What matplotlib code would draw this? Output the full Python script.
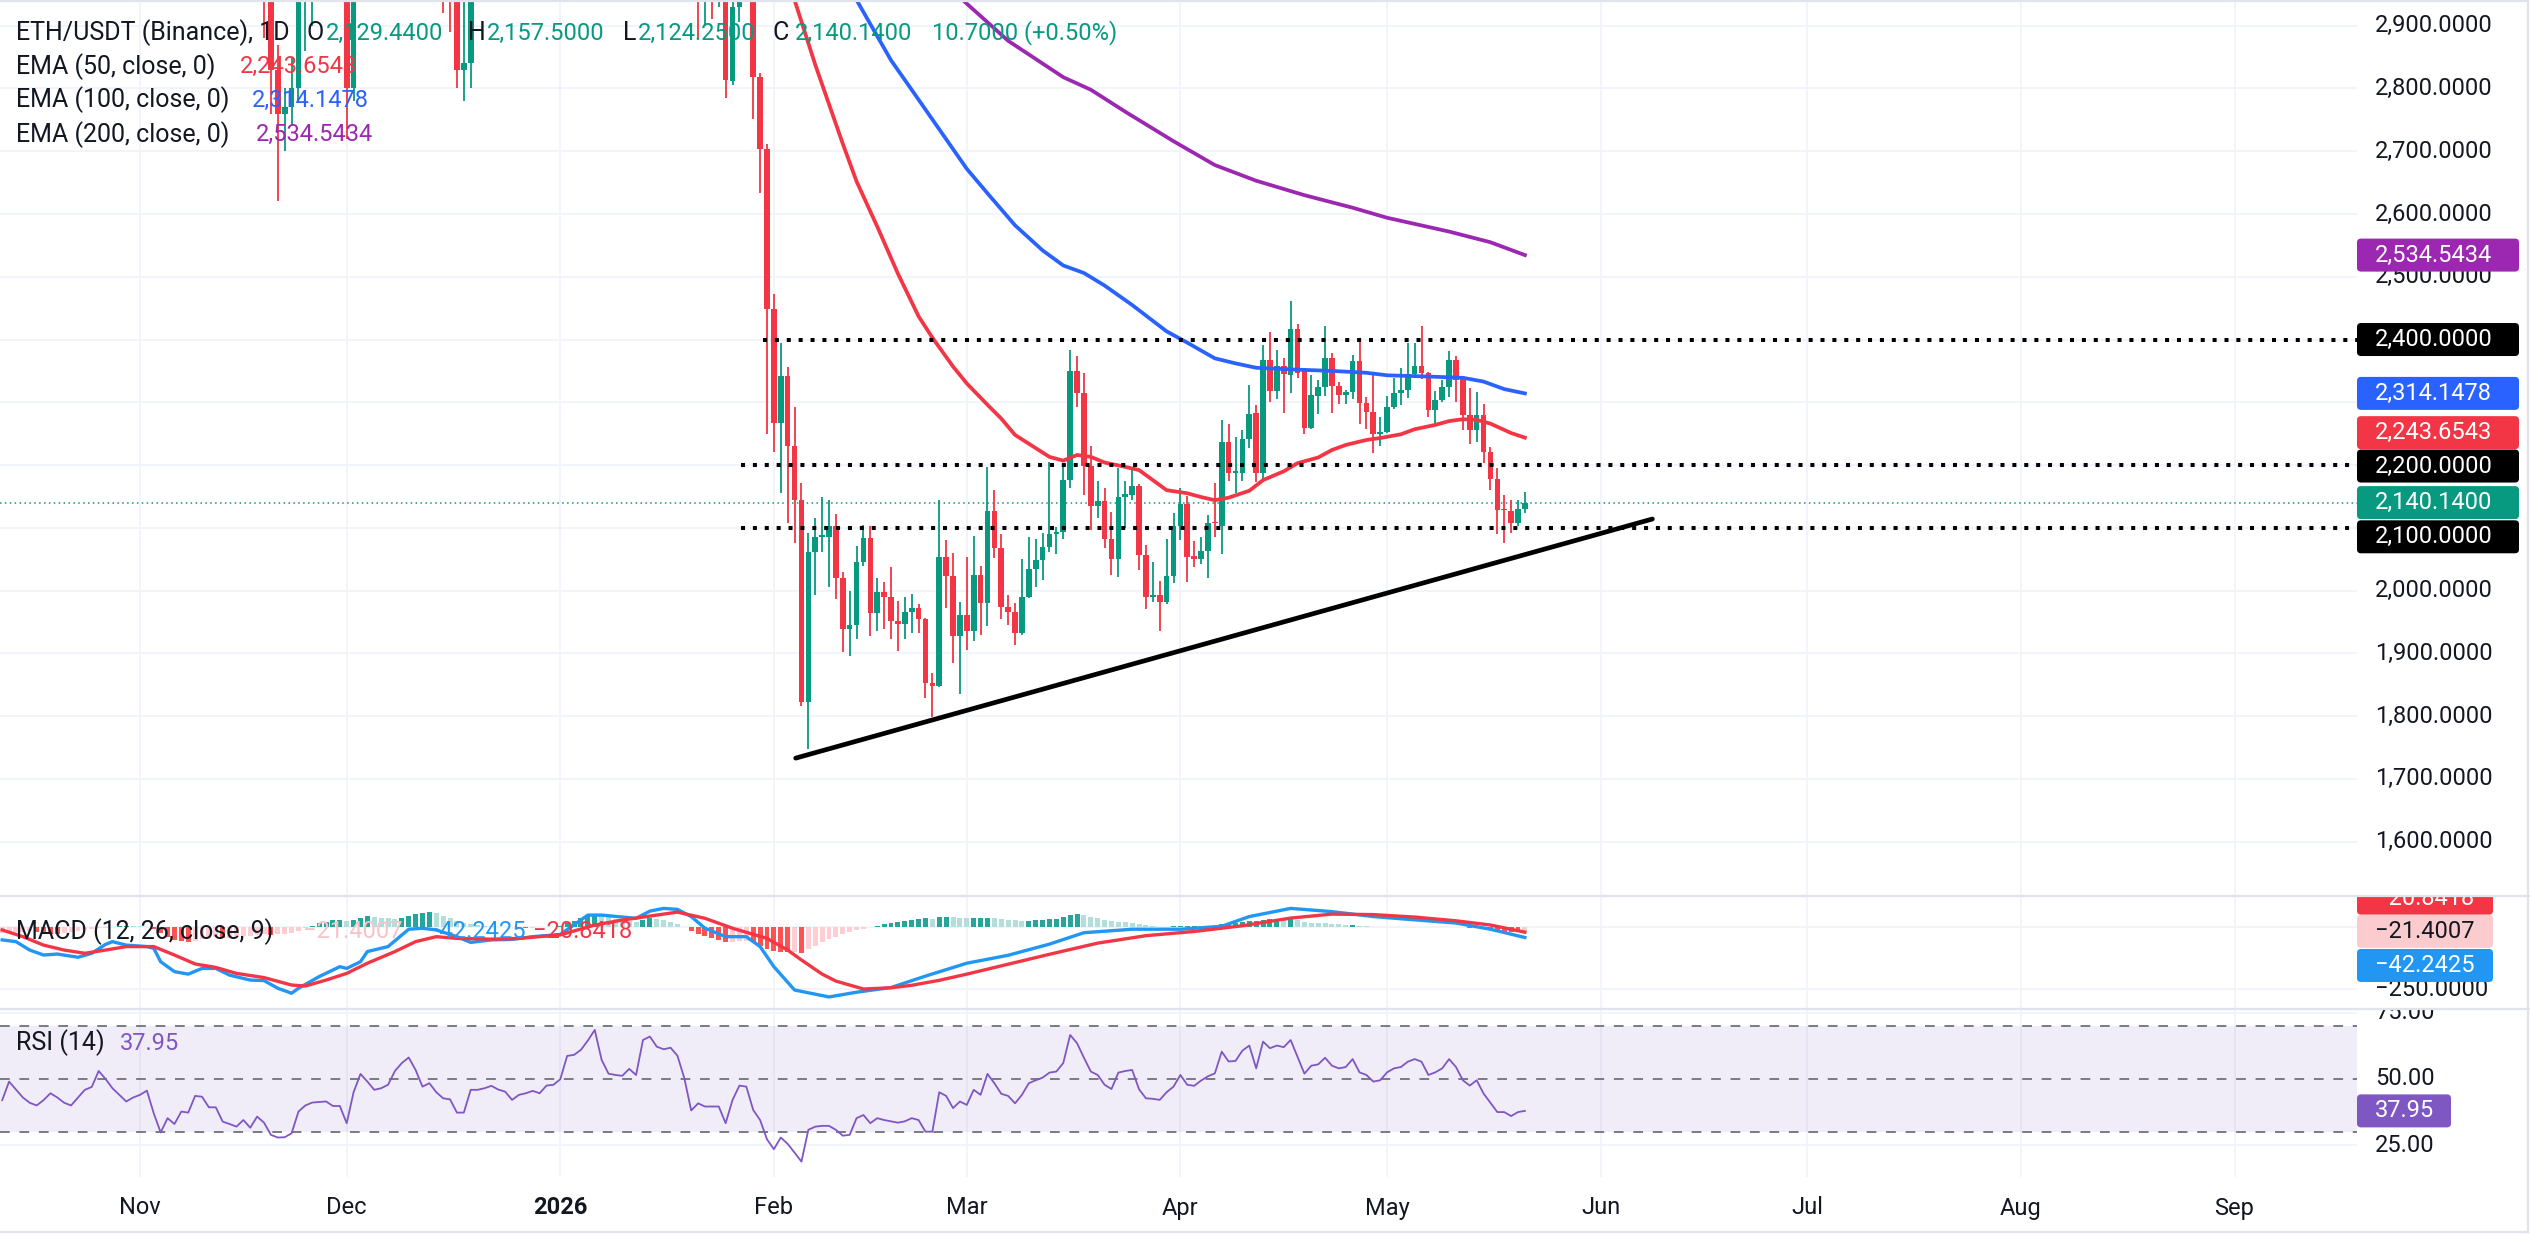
import numpy as np
import pandas as pd
import matplotlib
matplotlib.use('Agg')
import matplotlib.pyplot as plt
import matplotlib.dates as mdates
from matplotlib.patches import FancyBboxPatch
from matplotlib.lines import Line2D
from matplotlib.transforms import IdentityTransform

plt.rcParams['font.family'] = ['Roboto', 'DejaVu Sans']

# ---------------- data ----------------
# daily candles: a few early ones whose lower part pokes into view ...
early_dates = ['2025-11-19', '2025-11-20', '2025-11-21', '2025-11-22', '2025-11-23', '2025-11-24',
               '2025-11-25', '2025-11-26', '2025-12-01', '2025-12-02', '2025-12-15', '2025-12-16',
               '2025-12-17', '2025-12-18', '2025-12-19', '2026-01-21', '2026-01-22', '2026-01-23',
               '2026-01-24']
early_o = [3070, 3020, 2830, 2760, 2770, 2800, 2950, 2960, 2990, 2800, 3100, 2960, 2950, 2830, 2840, 3000, 2950, 2960, 2950]
early_h = [3170, 3060, 2870, 2800, 2850, 2960, 2990, 3050, 3000, 3000, 3180, 2990, 3000, 3000, 3000, 3020, 3000, 3000, 2980]
early_l = [2880, 2760, 2620, 2700, 2740, 2780, 2860, 2900, 2720, 2780, 2920, 2890, 2800, 2780, 2800, 2880, 2900, 2910, 2930]
early_c = [3020, 2830, 2760, 2770, 2800, 2950, 2960, 3020, 2800, 2990, 2960, 2950, 2830, 2840, 2980, 2950, 2960, 2950, 2955]

# ... then every day from 25 Jan 2026 to 21 May 2026
main_start = '2026-01-25'
main_o = [2950, 2812, 2930, 2975, 3010, 2819, 2703,
          2448, 2267, 2342, 2230, 2145, 1823, 2062, 2085, 2085, 2103, 2020, 1938, 1945, 2045,
          2084, 1964, 1997, 1989, 1952, 1947, 1966, 1972, 1954, 1853, 1848, 2054, 2023, 1928,
          1961, 1936, 2025, 1980, 2126, 2068, 1974, 1966, 1933, 1990, 2034, 2049, 2070, 2090,
          2094, 2176, 2350, 2314, 2199, 2134, 2143, 2082, 2051, 2149, 2152, 2166, 2057, 1989,
          1993, 1981, 2023,
          2103, 2138, 2055, 2051, 2063, 2110, 2103, 2236, 2187, 2187, 2241, 2283, 2188, 2367,
          2318, 2358, 2343, 2417, 2350, 2259, 2310, 2324, 2370, 2326, 2312, 2317, 2366, 2299,
          2285, 2249,
          2253, 2292, 2314, 2319, 2345, 2358, 2347, 2288, 2303, 2325, 2368, 2338, 2280, 2256,
          2280, 2221, 2177, 2130, 2127, 2108, 2129.44]
main_h = [2975, 2960, 3010, 3050, 3040, 2825, 2712,
          2472, 2394, 2356, 2292, 2171, 2091, 2116, 2149, 2145, 2122, 2030, 1999, 2071, 2105,
          2103, 2020, 2014, 2037, 1983, 1989, 1995, 1979, 1956, 1869, 2145, 2080, 2060, 1982,
          2054, 2087, 2039, 2197, 2160, 2090, 1993, 1980, 2051, 2085, 2082, 2091, 2205, 2102,
          2197, 2383, 2374, 2347, 2230, 2175, 2164, 2125, 2195, 2174, 2196, 2169, 2073, 2045,
          2016, 2082, 2123,
          2164, 2150, 2079, 2085, 2120, 2171, 2272, 2266, 2244, 2256, 2328, 2296, 2391, 2412,
          2383, 2370, 2461, 2425, 2354, 2343, 2335, 2421, 2378, 2333, 2320, 2376, 2400, 2309,
          2343, 2277,
          2310, 2339, 2354, 2395, 2395, 2421, 2349, 2318, 2335, 2381, 2373, 2341, 2322, 2317,
          2297, 2228, 2195, 2153, 2144, 2145, 2157.5]
main_l = [2785, 2805, 2906, 2950, 2752, 2634, 2250,
          2220, 2155, 2108, 2076, 1816, 1748, 1993, 2062, 2006, 1987, 1902, 1896, 1923, 2039,
          1928, 1935, 1938, 1923, 1904, 1923, 1933, 1933, 1829, 1798, 1846, 1973, 1884, 1835,
          1906, 1919, 1929, 1943, 2052, 1954, 1945, 1914, 1929, 1988, 2006, 2017, 2061, 2059,
          2082, 2163, 2292, 2152, 2097, 2115, 2068, 2024, 2021, 2099, 2144, 2033, 1970, 1981,
          1936, 1979, 2012,
          2081, 2014, 2038, 2043, 2020, 2086, 2059, 2174, 2155, 2174, 2227, 2173, 2173, 2301,
          2306, 2283, 2315, 2338, 2250, 2258, 2282, 2310, 2283, 2298, 2298, 2305, 2265, 2257,
          2219, 2230,
          2251, 2290, 2296, 2307, 2341, 2337, 2277, 2264, 2301, 2309, 2301, 2256, 2233, 2236,
          2203, 2161, 2090, 2075, 2092, 2103, 2124.25]
main_c = [2814, 2930, 2975, 3010, 2819, 2703, 2448,
          2267, 2342, 2230, 2145, 1823, 2062, 2085, 2089, 2103, 2020, 1938, 1945, 2045, 2084,
          1964, 1997, 1989, 1952, 1947, 1966, 1972, 1954, 1853, 1848, 2054, 2023, 1928, 1961,
          1936, 2025, 1980, 2126, 2068, 1974, 1966, 1933, 1990, 2034, 2049, 2070, 2090, 2094,
          2176, 2350, 2314, 2199, 2134, 2143, 2082, 2051, 2149, 2154, 2166, 2057, 1989, 1993,
          1981, 2023, 2103,
          2138, 2054, 2051, 2063, 2107, 2107, 2236, 2187, 2190, 2241, 2282, 2188, 2367, 2318,
          2358, 2345, 2417, 2346, 2259, 2312, 2325, 2370, 2326, 2312, 2317, 2366, 2299, 2285,
          2249, 2253,
          2292, 2314, 2319, 2345, 2358, 2347, 2288, 2303, 2325, 2368, 2336, 2280, 2256, 2280,
          2221, 2177, 2128, 2128, 2108, 2129.44, 2140.14]

ema50_dates = ['2026-01-31', '2026-02-04', '2026-02-07', '2026-02-11', '2026-02-13', '2026-02-16',
               '2026-02-19', '2026-02-22', '2026-02-24', '2026-02-27', '2026-03-01', '2026-03-04',
               '2026-03-06', '2026-03-08', '2026-03-11', '2026-03-13', '2026-03-15', '2026-03-17',
               '2026-03-19', '2026-03-21', '2026-03-24', '2026-03-26', '2026-03-28', '2026-03-30',
               '2026-04-02', '2026-04-04', '2026-04-06', '2026-04-08', '2026-04-11', '2026-04-13',
               '2026-04-16', '2026-04-18', '2026-04-21', '2026-04-23', '2026-04-25', '2026-04-28',
               '2026-04-30', '2026-05-03', '2026-05-05', '2026-05-08', '2026-05-10', '2026-05-12',
               '2026-05-14', '2026-05-16', '2026-05-19', '2026-05-21']
ema50_vals = [3080, 2941, 2838, 2712, 2652, 2580, 2505, 2437, 2403, 2357, 2330, 2296,
              2274, 2248, 2227, 2213, 2207, 2216, 2213, 2204, 2197, 2192, 2176, 2160,
              2155, 2149, 2144, 2148, 2159, 2176, 2190, 2203, 2212, 2224, 2232, 2240,
              2243, 2249, 2257, 2264, 2270, 2273, 2272, 2266, 2251, 2243.65]

ema100_dates = ['2026-02-09', '2026-02-13', '2026-02-18', '2026-02-21', '2026-02-25', '2026-03-01',
                '2026-03-04', '2026-03-08', '2026-03-12', '2026-03-15', '2026-03-18', '2026-03-21',
                '2026-03-25', '2026-03-30', '2026-04-02', '2026-04-06', '2026-04-09', '2026-04-12',
                '2026-04-18', '2026-04-23', '2026-04-28', '2026-05-01', '2026-05-07', '2026-05-12',
                '2026-05-15', '2026-05-18', '2026-05-21']
ema100_vals = [3020, 2941, 2845, 2798, 2735, 2672, 2633, 2582, 2542, 2518, 2506, 2486,
               2455, 2413, 2395, 2370, 2362, 2355, 2352, 2350, 2347, 2343, 2341, 2339,
               2333, 2321, 2314.15]

ema200_dates = ['2026-02-21', '2026-02-28', '2026-03-07', '2026-03-15', '2026-03-19', '2026-03-24',
                '2026-03-31', '2026-04-06', '2026-04-12', '2026-04-19', '2026-04-26', '2026-05-01',
                '2026-05-10', '2026-05-16', '2026-05-21']
ema200_vals = [3000, 2945, 2876, 2818, 2798, 2763, 2716, 2678, 2653, 2630, 2610, 2594,
               2572, 2555, 2534.54]

macd_dates = ['2025-10-12', '2025-10-14', '2025-10-16', '2025-10-18', '2025-10-20', '2025-10-23',
              '2025-10-25', '2025-10-27', '2025-10-28', '2025-10-30', '2025-11-02', '2025-11-03',
              '2025-11-04', '2025-11-06', '2025-11-08', '2025-11-10', '2025-11-12', '2025-11-14',
              '2025-11-17', '2025-11-19', '2025-11-21', '2025-11-23', '2025-11-24', '2025-11-27',
              '2025-11-30', '2025-12-01', '2025-12-03', '2025-12-04', '2025-12-07', '2025-12-10',
              '2025-12-12', '2025-12-14', '2025-12-17', '2025-12-19', '2025-12-22', '2025-12-25',
              '2025-12-28', '2026-01-01', '2026-01-05', '2026-01-07', '2026-01-12', '2026-01-14',
              '2026-01-16', '2026-01-18', '2026-01-20', '2026-01-22', '2026-01-25', '2026-01-28',
              '2026-01-30', '2026-02-01', '2026-02-04', '2026-02-09', '2026-02-13', '2026-02-18',
              '2026-02-23', '2026-03-01', '2026-03-07', '2026-03-13', '2026-03-18', '2026-03-25',
              '2026-04-01', '2026-04-07', '2026-04-11', '2026-04-17', '2026-04-23', '2026-04-29',
              '2026-05-05', '2026-05-11', '2026-05-16', '2026-05-21']
macd_vals = [-52, -59, -93, -113, -109, -122, -106, -70, -59, -73, -79, -86,
             -140, -180, -190, -167, -167, -194, -214, -216, -247, -267, -247, -200,
             -160, -167, -140, -99, -79, -9, -5, -12, -39, -62, -52, -50,
             -39, -30, 48, 48, 35, 64, 75, 71, 42, -5, -39, -39,
             -79, -160, -254, -282, -263, -244, -198, -146, -114, -69, -23, -9,
             -9, 3, 42, 75, 62, 42, 29, 16, -9, -42.24]

signal_dates = ['2025-10-12', '2025-10-15', '2025-10-18', '2025-10-21', '2025-10-24', '2025-10-27',
                '2025-10-30', '2025-11-03', '2025-11-06', '2025-11-09', '2025-11-12', '2025-11-15',
                '2025-11-19', '2025-11-23', '2025-11-25', '2025-11-28', '2025-12-01', '2025-12-04',
                '2025-12-08', '2025-12-11', '2025-12-14', '2025-12-17', '2025-12-22', '2025-12-26',
                '2026-01-01', '2026-01-06', '2026-01-10', '2026-01-15', '2026-01-18', '2026-01-22',
                '2026-01-26', '2026-01-31', '2026-02-03', '2026-02-05', '2026-02-08', '2026-02-10',
                '2026-02-14', '2026-02-18', '2026-02-21', '2026-02-25', '2026-03-01', '2026-03-07',
                '2026-03-13', '2026-03-20', '2026-03-27', '2026-04-03', '2026-04-10', '2026-04-17',
                '2026-04-23', '2026-04-29', '2026-05-05', '2026-05-11', '2026-05-16', '2026-05-21']
signal_vals = [-12, -39, -73, -93, -106, -93, -79, -79, -113, -149, -163, -187,
               -204, -234, -238, -214, -187, -146, -99, -59, -39, -46, -49, -46,
               -32, 8, 28, 48, 60, 35, -5, -46, -93, -133, -190, -218,
               -250, -245, -235, -215, -190, -150, -110, -65, -35, -18, 5, 36,
               52, 50, 40, 25, 8, -20.84]

hist_start = '2025-10-12'
hist_vals = [-25, -24, -22, -20, -18, -20, -24, -27, -28, -26, -22, -18, -14, -10, -6, -3, 0, 3, 5, 4,
             3, 2, -8, -25, -40, -52, -58, -60,
             -55, -48, -44, -42, -45, -45, -42, -38, -35, -33, -30, -32, -30, -28, -25,
             -15, -5, 5, 15, 22, 28, 30, 25, 30, 38, 44, 42, 38, 36, 34,
             38, 45, 52, 58, 62, 55, 45, 35, 25, 15, 12, 8, 5, 3, 2,
             0, -2, -3, -4, -3, -2, 0, 2, 6, 15, 25, 35, 45, 52, 48,
             40, 32, 28, 24, 22, 30, 35, 33, 28, 22, 14, 2, -15, -28, -38,
             -44, -52, -60, -60, -55, -55, -62, -75, -88, -98, -100, -102, -100, -105, -90,
             -75, -62, -50, -40, -30, -22, -14, -8, -2, 5, 12, 18, 22, 26, 30,
             34, 36, 34, 40, 42, 40, 38, 36, 36, 38, 38, 35, 32, 30, 28,
             26, 26, 28, 30, 32, 34, 42, 50, 52, 48, 42, 36, 30, 25, 22,
             20, 17, 12, 8, 4, 2, 2, 4, 6, 6, 6, 5, 5, 6, 12,
             15, 18, 22, 26, 26, 30, 32, 32, 30, 32, 28, 22, 18, 16, 15,
             14, 12, 10, 10, 6, 3, 0, -2, -2, -1, 0, 1, 2, 2, -1,
             -2, -1, 0, 1, -2, -5, -6, -9, -13, -17, -19, -21, -22, -21.4]

rsi_start = '2025-10-12'
rsi_vals = [42, 49, 46, 43, 41, 40, 42, 44.6, 43, 41, 40, 43, 45.9, 47, 53, 50, 46.5, 44, 41.5, 43,
            44, 45.6, 37, 29.8, 35.2, 33, 37.7, 37.3, 43.6, 43.3,
            39.3, 39.3, 33.9, 33, 32, 34.5, 31.6, 35.8, 33.5, 28.9,
            27.9, 28, 29.5, 37.7, 40, 41.1, 41.3, 41.5, 39.8, 39.8,
            33.3, 45, 51.9, 49, 45.9, 46.5, 47.8, 53, 56, 58.1,
            53.4, 47.1, 48.4, 45, 42.7, 42.3, 37.3, 37.3, 45.9, 45.9,
            46.5, 47.4, 46, 45.2, 42.1, 44, 44.6, 45.5, 44.6, 47.5,
            47.8, 49.9, 58.7, 59.1, 61, 64.5, 68.5, 57.2, 52, 51.5,
            51.2, 53.8, 51.5, 64.7, 66, 62.2, 61.2, 61.8, 58.8, 50.3,
            38.1, 40.8, 39.6, 39.6, 39.6, 33.3, 42.1, 47.5, 47.1, 38.3,
            34.5, 27.2, 23.5, 27.9, 25.5, 22.2, 18.8, 30.8, 32, 32.3,
            32.3, 30.8, 28.6, 28.9, 35.2, 36.4, 33.3, 35.2, 34.5, 34,
            33.5, 34, 35.2, 34.5, 30.1, 30.1, 45, 43.6, 39, 41.5,
            40.2, 45.9, 44, 51.9, 48.4, 44.4, 43.6, 40.8, 44, 48.4,
            49.5, 50.5, 52.4, 52.8, 56, 66.6, 63.5, 58, 52.8, 51.5,
            47.8, 46.2, 52.4, 53, 53.4, 46.1, 42.7, 42.5, 42.1, 45,
            47.1, 51.5, 47.8, 47.4, 49.4, 51, 52.1, 60.3, 56.6, 56.8,
            60.7, 62.6, 54, 64.1, 61.6, 62.6, 62, 64.7, 58.4, 52,
            55, 55.5, 58, 55, 54, 54.5, 57.5, 52.5, 51.5, 49,
            49.5, 52.5, 54, 54.5, 56.5, 57.5, 56.5, 51.5, 52.5, 54,
            57.5, 54.5, 49.5, 47.5, 49.5, 44.5, 41, 37.5, 37.5, 36,
            37.5, 37.95]

levels = [2400, 2200, 2100]
level_from = ['2026-01-30 10:00', '2026-01-27 05:00', '2026-01-27 05:00']
trend_dates = ['2026-02-04 04:00', '2026-06-08 12:00']
trend_vals = [1733, 2114]
last_price = 2140.14

price_ticks = list(range(1600, 3000, 100))
hidden_ticks = [2100, 2200, 2300, 2400]    # covered by the value tags on the scale
month_starts = ['2025-11-01', '2025-12-01', '2026-01-01', '2026-02-01', '2026-03-01', '2026-04-01',
                '2026-05-01', '2026-06-01', '2026-07-01', '2026-08-01', '2026-09-01']
month_names = ['Nov', 'Dec', '2026', 'Feb', 'Mar', 'Apr', 'May', 'Jun', 'Jul', 'Aug', 'Sep']

# ---------------- styling ----------------
W, H = 2530, 1253
UP, DOWN = '#089981', '#F23645'
TXT = '#131722'
GRID = '#f0f3fa'
SEP = '#e0e3eb'
FS = 17          # numbers on the scales
FS_NAME = 18     # legend names
PX_DAY = 6.89
SCALE_X = 2357   # where the price scale starts (pixels)

fig = plt.figure(figsize=(W / 100, H / 100), dpi=100, facecolor='white')


def pane(top, bottom):
    return fig.add_axes([0, 1 - bottom / H, 1, (bottom - top) / H])


ax = pane(0, 896)
axm = pane(896, 1009)
axr = pane(1009, 1177)

nov1 = mdates.date2num(pd.Timestamp('2025-11-01'))
x0 = nov1 - 140 / PX_DAY
x1 = nov1 + (W - 140) / PX_DAY
xend = nov1 + (SCALE_X - 140) / PX_DAY
for a in (ax, axm, axr):
    a.set_xlim(x0, x1)
    a.set_axis_off()
ax.set_ylim(1513.3, 2941)
axm.set_ylim(-330.6, 125)
axr.set_ylim(13.0, 76.4)

# grid
mx = mdates.date2num(pd.to_datetime(month_starts))
for a in (ax, axm, axr):
    lo, hi = a.get_ylim()
    a.vlines(mx, lo, hi, color=GRID, lw=1.3, zorder=0)
ax.hlines(price_ticks, x0, xend, color=GRID, lw=1.3, zorder=0)
axm.hlines([0, -250], x0, xend, color=GRID, lw=1.3, zorder=0)
axr.hlines([75, 25], x0, xend, color=GRID, lw=1.3, zorder=0)

# candles
cdates = list(pd.to_datetime(early_dates)) + list(pd.date_range(main_start, periods=len(main_o)))
cx = mdates.date2num(cdates)
o = np.array(early_o + main_o, float)
h = np.array(early_h + main_h, float)
l = np.array(early_l + main_l, float)
c = np.array(early_c + main_c, float)
col = np.where(c >= o, UP, DOWN)
ax.vlines(cx, l, h, colors=col, lw=1.3, zorder=3)
ax.bar(cx, np.maximum(np.abs(c - o), 1.6), bottom=np.minimum(o, c), width=0.82,
       color=col, linewidth=0, zorder=3)

# EMAs
ax.plot(mdates.date2num(pd.to_datetime(ema200_dates)), ema200_vals, color='#9C27B0', lw=2.7, zorder=4)
ax.plot(mdates.date2num(pd.to_datetime(ema100_dates)), ema100_vals, color='#2962FF', lw=2.7, zorder=4)
ax.plot(mdates.date2num(pd.to_datetime(ema50_dates)), ema50_vals, color='#F23645', lw=2.7, zorder=4)

# horizontal levels, last price, trend line
for lvl, start in zip(levels, level_from):
    ax.plot([mdates.date2num(pd.Timestamp(start)), xend], [lvl, lvl], color='black', lw=2.9,
            ls=(0, (1, 1.95)), dash_capstyle='butt', zorder=5)
ax.plot([x0, xend], [last_price, last_price], color=UP, lw=1.1, ls=(0, (1, 2.2)), zorder=2)
ax.plot(mdates.date2num(pd.to_datetime(trend_dates)), trend_vals, color='black', lw=3.4,
        solid_capstyle='round', zorder=5)

# MACD
hx = mdates.date2num(pd.date_range(hist_start, periods=len(hist_vals)))
hv = np.array(hist_vals, float)
prev = np.concatenate([[hv[0]], hv[:-1]])
hcol = np.where(hv >= 0, np.where(hv >= prev, '#26A69A', '#B2DFDB'),
                np.where(hv < prev, '#FF5252', '#FFCDD2'))
axm.bar(hx, hv, width=0.72, color=hcol, linewidth=0, zorder=2)
axm.plot(mdates.date2num(pd.to_datetime(macd_dates)), macd_vals, color='#2196F3', lw=2.4, zorder=3)
axm.plot(mdates.date2num(pd.to_datetime(signal_dates)), signal_vals, color='#F23645', lw=2.4, zorder=4)

# RSI
axr.fill_between([x0, xend], 30, 70, color='#7E57C2', alpha=0.1, lw=0, zorder=1)
for lv in (70, 50, 30):
    axr.plot([x0, xend], [lv, lv], color='#787B86', lw=1.4, ls=(0, (5, 5)), zorder=2)
axr.plot(mdates.date2num(pd.date_range(rsi_start, periods=len(rsi_vals))), rsi_vals,
         color='#7E57C2', lw=1.3, zorder=3)

# ---------------- price scale labels ----------------
IDT = IdentityTransform()


def ypix(a, v):
    return a.transData.transform((x0, v))[1]


def scale_label(a, v, s, dy=0):
    a.text(2375, ypix(a, v) - dy, s, transform=IDT, color=TXT, fontsize=FS, va='center',
           ha='left', clip_on=True, zorder=10)


def tag(a, v, s, fc, tc, width=162, dy=0):
    # dy > 0 pushes the tag down, as the scale does when tags collide
    y = ypix(a, v) - dy
    a.add_patch(FancyBboxPatch((SCALE_X, y - 16.5), width, 33, boxstyle='round,pad=0,rounding_size=4',
                               transform=IDT, fc=fc, ec='none', zorder=11))
    a.text(2375, y, s, transform=IDT, color=tc, fontsize=FS, va='center', ha='left',
           clip_on=True, zorder=12)


for t in price_ticks:
    if t not in hidden_ticks:
        scale_label(ax, t, f'{t:,.4f}')
tag(ax, 2534.5434, '2,534.5434', '#9C27B0', 'white')
tag(ax, 2400, '2,400.0000', 'black', 'white')
tag(ax, 2314.1478, '2,314.1478', '#2962FF', 'white')
tag(ax, 2243.6543, '2,243.6543', '#F23645', 'white', dy=-5)
tag(ax, 2200, '2,200.0000', 'black', 'white', dy=1)
tag(ax, last_price, '2,140.1400', UP, 'white')
tag(ax, 2100, '2,100.0000', 'black', 'white', dy=9)

scale_label(axm, -250, '\u2212250.0000')
tag(axm, -20.8418, '\u221220.8418', '#F23645', 'white', width=136, dy=-34)
tag(axm, -21.4007, '\u221221.4007', '#FCCBCD', TXT, width=136, dy=-1)
tag(axm, -42.2425, '\u221242.2425', '#2196F3', 'white', width=136, dy=28)

scale_label(axr, 75, '75.00')
scale_label(axr, 50, '50.00')
scale_label(axr, 25, '25.00')
tag(axr, 37.95, '37.95', '#7E57C2', 'white', width=94)

# ---------------- legends ----------------


def ftext(x, y, s, color=TXT, size=FS, **kw):
    fig.text(x / W, 1 - y / H, s, color=color, fontsize=size, va='center', ha='left', zorder=20, **kw)


ftext(16, 33, 'ETH/USDT (Binance), 1D', size=FS_NAME)
for lx, letter, vx, val in [(307, 'O', 326, '2,129.4400'), (468, 'H', 487, '2,157.5000'),
                            (623, 'L', 638, '2,124.2500'), (772, 'C', 795, '2,140.1400')]:
    ftext(lx, 33, letter, size=FS_NAME)
    ftext(vx, 33, val, UP)
ftext(932, 33, '10.7000 (+0.50%)', UP)
ftext(16, 66.5, 'EMA (50, close, 0)', size=FS_NAME)
ftext(240, 66.5, '2,243.6543', '#F23645')
ftext(16, 100, 'EMA (100, close, 0)', size=FS_NAME)
ftext(252, 100, '2,314.1478', '#2962FF')
ftext(16, 134.5, 'EMA (200, close, 0)', size=FS_NAME)
ftext(256, 134.5, '2,534.5434', '#9C27B0')

ftext(16, 931.5, 'MACD (12, 26, close, 9)', size=FS_NAME)
ftext(303, 931.5, '\u221221.4007', '#F8C3C7')
ftext(426, 931.5, '\u221242.2425', '#2196F3')
ftext(533, 931.5, '\u221220.8418', '#F23645')

ftext(16, 1043, 'RSI (14)', size=FS_NAME)
ftext(120, 1043, '37.95', '#7E57C2')

# time scale
for xm, name in zip(mx, month_names):
    px = 140 + (xm - nov1) * PX_DAY
    fig.text(px / W, 1 - 1208 / H, name, color=TXT, fontsize=FS, ha='center', va='center',
             fontweight='bold' if name == '2026' else 'normal')

# pane separators and frame
for yy in (896, 1009):
    fig.add_artist(Line2D([0, W], [H - yy, H - yy], transform=IDT, color=SEP, lw=1.6))
fig.add_artist(Line2D([0, W - 2], [H - 1232, H - 1232], transform=IDT, color=SEP, lw=1.6))
fig.add_artist(Line2D([W - 2, W - 2], [H - 1232, H], transform=IDT, color=SEP, lw=1.6))
fig.add_artist(Line2D([0, W - 2], [H - 1, H - 1], transform=IDT, color=SEP, lw=1.6))

fig.savefig('out.png', dpi=100, facecolor='white')
